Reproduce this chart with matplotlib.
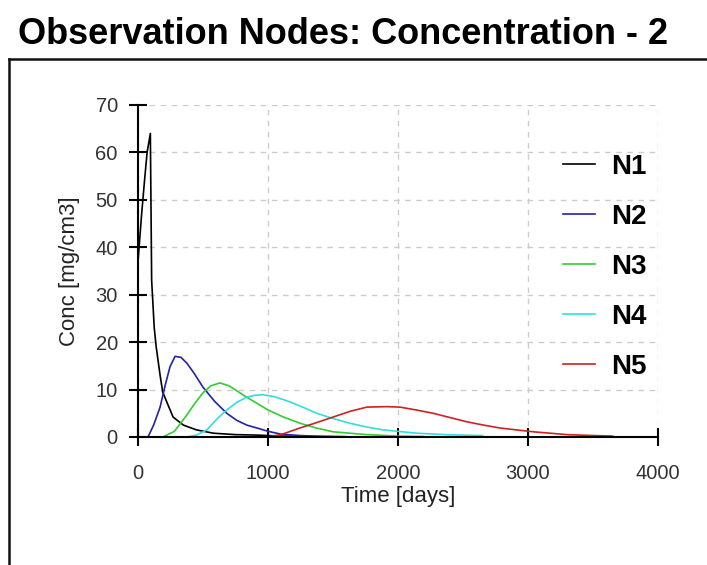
import matplotlib
matplotlib.use('Agg')
from matplotlib import pyplot as plt
from matplotlib.lines import Line2D

# observation node series (time in days, concentration in mg/cm3)
n1_t = [0, 0, 28, 50, 70, 95, 105, 125, 140, 170, 190, 215, 270, 350, 450, 580, 750, 915, 1100, 1300, 1600]
n1_c = [0, 37, 47, 54, 60, 64, 33, 23, 19, 13, 9.5, 7.8, 4.2, 2.5, 1.5, 0.8, 0.5, 0.4, 0.2, 0.1, 0.05]

n2_t = [77, 120, 170, 210, 246, 285, 330, 375, 430, 500, 590, 683, 760, 838, 940, 1000, 1100, 1250, 1400, 1600]
n2_c = [0, 2.5, 6.3, 11, 14.8, 17, 16.8, 15.6, 13.5, 10.5, 7.5, 5, 3.5, 2.5, 1.7, 1.2, 0.6, 0.3, 0.15, 0.05]

n3_t = [192, 280, 375, 440, 500, 560, 630, 700, 836, 1000, 1120, 1246, 1370, 1500, 1760, 2000, 2200]
n3_c = [0, 1.2, 4.6, 7.2, 9.3, 10.8, 11.4, 10.8, 8.4, 5.7, 4.2, 2.9, 1.9, 1.1, 0.5, 0.2, 0.1]

n4_t = [375, 450, 530, 600, 683, 760, 836, 900, 963, 1050, 1170, 1275, 1375, 1500, 1630, 1760, 1885, 2145, 2400, 2650]
n4_c = [0, 0.4, 1.5, 3.6, 5.7, 7.3, 8.4, 8.8, 8.9, 8.5, 7.4, 6.2, 5, 3.9, 2.9, 2.1, 1.5, 0.8, 0.45, 0.3]

n5_t = [990, 1100, 1246, 1370, 1500, 1630, 1760, 1912, 2015, 2140, 2270, 2400, 2530, 2660, 2785, 2910, 3040, 3170, 3300, 3450, 3650]
n5_c = [0, 0.5, 1.9, 3.0, 4.2, 5.4, 6.3, 6.4, 6.3, 5.7, 5.0, 4.1, 3.2, 2.5, 1.9, 1.5, 1.1, 0.8, 0.5, 0.35, 0.2]

labels = ['N1', 'N2', 'N3', 'N4', 'N5']
colors = ['#000000', '#2222aa', '#33cc33', '#33dddd', '#cc2222']
x_ticks = [0, 1000, 2000, 3000, 4000]
y_ticks = [0, 10, 20, 30, 40, 50, 60, 70]

plt.rcParams['font.family'] = ['Liberation Sans', 'DejaVu Sans']

fig = plt.figure(figsize=(7.07, 5.65), dpi=100)
fig.patch.set_facecolor('white')

# title bar and panel frame
fig.text(18 / 707, 1 - 35 / 565, 'Observation Nodes: Concentration - 2',
         fontsize=26, fontweight='bold', va='center', ha='left')
fig.add_artist(Line2D([9 / 707, 1], [1 - 59 / 565] * 2, color='#111111', lw=1.8))
fig.add_artist(Line2D([9 / 707] * 2, [0, 1 - 59 / 565], color='#111111', lw=1.8))

ax = fig.add_axes([138 / 707, 1 - 437 / 565, 520 / 707, 332 / 565])

series = [(n1_t, n1_c), (n2_t, n2_c), (n3_t, n3_c), (n4_t, n4_c), (n5_t, n5_c)]
for (t, c), lab, col in zip(series, labels, colors):
    ax.plot(t, c, color=col, lw=1.2, label=lab)

ax.set_xlim(0, 4000)
ax.set_ylim(0, 70)
ax.set_xticks(x_ticks)
ax.set_yticks(y_ticks)
ax.grid(True, ls=(0, (4, 4)), color='#cccccc', lw=1)
ax.set_axisbelow(True)
for s in ['top', 'right']:
    ax.spines[s].set_visible(False)
for s in ['left', 'bottom']:
    ax.spines[s].set_linewidth(1.5)
ax.tick_params(direction='inout', length=13, width=1.5, labelsize=14.5,
               labelcolor='#333333')
ax.tick_params(axis='x', pad=13)
ax.tick_params(axis='y', pad=8)
ax.set_xlabel('Time [days]', fontsize=16, color='#222222', labelpad=2)
ax.set_ylabel('Conc [mg/cm3]', fontsize=16, color='#222222', labelpad=11)

leg = ax.legend(loc='upper left', bbox_to_anchor=(538 / 707, 1 - 129 / 565),
                bbox_transform=fig.transFigure, frameon=False,
                handlelength=1.15, handletextpad=0.6, labelspacing=0.86,
                prop={'weight': 'bold', 'size': 20})

fig.savefig('out.png', dpi=100)
